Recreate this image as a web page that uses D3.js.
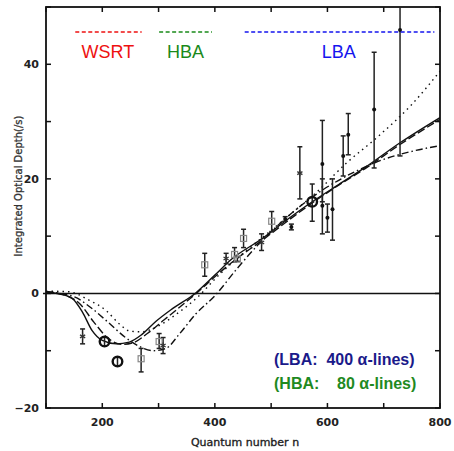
<!DOCTYPE html>
<html>
<head>
<script src="https://cdnjs.cloudflare.com/ajax/libs/d3/7.8.5/d3.min.js"></script>
<style>
  body { margin: 0; background: #fff; }
  text { white-space: pre; }
</style>
</head>
<body>
<svg id="chart"></svg>
<script>
// measured points: quantum number, optical depth, error range, marker
const pointN   = [165, 204, 227, 269, 301, 308, 382, 420, 435, 440, 451, 483, 501, 525, 536, 551, 573, 591, 591, 600, 609, 628, 637, 683, 729];
const pointTau = [-7.5, -8.4, -11.9, -11.4, -8.4, -9.1, 5.0, 6.1, 6.8, 6.0, 9.6, 8.9, 12.6, 13.0, 11.6, 21.0, 16.0, 22.6, 15.3, 13.2, 14.7, 24.0, 27.7, 32.1, 46.0];
const pointLo  = [-8.8, -9.2, -12.7, -13.7, -9.6, -10.5, 3.0, 5.2, 5.5, 5.6, 8.0, 7.5, 10.8, 12.6, 11.1, 16.5, 12.6, 16.0, 10.4, 10.7, 9.3, 20.5, 24.2, 21.9, 24.0];
const pointHi  = [-6.2, -7.6, -11.1, -9.6, -7.0, -7.7, 7.0, 7.0, 8.0, 6.4, 11.2, 10.4, 14.3, 13.4, 12.1, 25.6, 19.1, 30.2, 20.0, 15.6, 20.0, 27.5, 31.4, 42.1, 68.0];
const pointMk  = ["star", "circ", "circ", "sq", "sq", "star", "sq", "star", "sq", "sq", "sq", "star", "sq", "dot", "dot", "star", "circ", "dot", "dot", "dot", "dot", "dot", "dot", "dot", "dot"];

// model curves
const solidN   = [100, 124, 147, 165, 182, 200, 225, 248, 270, 295, 324, 365, 400, 430, 483, 530, 573, 620, 667, 729, 800];
const solidTau = [0.3, -0.1, -0.9, -3.3, -6.5, -8.2, -8.8, -8.5, -7.2, -4.9, -2.7, 0, 3.2, 6.0, 9.5, 13.0, 16.0, 19.0, 22.0, 26.3, 30.7];
const dashN    = [100, 130, 160, 185, 210, 235, 255, 280, 310, 340, 367, 400, 430, 483, 530, 573, 620, 667, 729, 800];
const dashTau  = [0.3, -0.2, -1.8, -5.0, -7.8, -8.9, -8.6, -7.0, -4.6, -2.2, 0, 2.9, 5.4, 9.2, 12.7, 15.8, 18.9, 21.8, 26.0, 30.4];
const dotN     = [100, 140, 177, 207, 230, 250, 270, 301, 336, 372, 400, 450, 500, 540, 580, 632, 690, 750, 800];
const dotTau   = [0.4, 0.3, -1.2, -3.0, -5.3, -6.6, -6.7, -5.6, -3.3, -0.4, 2.5, 7.0, 11.0, 14.3, 17.6, 22.6, 27.4, 33.0, 38.8];
const ddN      = [100, 150, 180, 210, 240, 265, 290, 313, 336, 366, 400, 440, 475, 520, 580, 650, 700, 750, 800];
const ddTau    = [0.3, -0.6, -2.5, -5.0, -7.6, -9.2, -10.0, -9.6, -7.2, -3.6, -0.4, 4.4, 8.3, 12.6, 17.3, 21.3, 23.4, 24.8, 25.8];

const xTicks = [200, 400, 600, 800];
const yTicks = [-20, 0, 20, 40];

// observing ranges shown at top
const bandNames  = ["WSRT", "HBA", "LBA"];
const bandStart  = [152, 301, 453];
const bandEnd    = [270, 395, 790];
const bandLabelN = [210, 348, 620];
const bandColors = ["#ee1111", "#1a8a1a", "#1515ee"];

const legendLines  = ["(LBA:  400 \u03b1-lines)", "(HBA:    80 \u03b1-lines)"];
const legendColors = ["#1a1a8a", "#1f8a1f"];

const W = 454, H = 451;
const svg = d3.select("#chart").attr("width", W).attr("height", H);
const x = d3.scaleLinear().domain([100, 800]).range([46, 440]);
const y = d3.scaleLinear().domain([-20, 50]).range([408, 7]);

svg.append("defs").append("clipPath").attr("id", "plot")
  .append("rect").attr("x", 46).attr("y", 7).attr("width", 394).attr("height", 401);

const tickFont = "'DejaVu Sans', sans-serif";

// frame ticks (inward) on all sides
const xMinor = d3.range(100, 801, 100);
const yMinor = d3.range(-20, 51, 10);
const ticks = svg.append("g").attr("stroke", "#111").attr("stroke-width", 1.5);
xMinor.forEach(v => {
  ticks.append("line").attr("x1", x(v)).attr("x2", x(v)).attr("y1", 408).attr("y2", 403);
  ticks.append("line").attr("x1", x(v)).attr("x2", x(v)).attr("y1", 7).attr("y2", 12);
});
yMinor.forEach(v => {
  ticks.append("line").attr("x1", 46).attr("x2", 51).attr("y1", y(v)).attr("y2", y(v));
  ticks.append("line").attr("x1", 440).attr("x2", 435).attr("y1", y(v)).attr("y2", y(v));
});

svg.append("rect").attr("x", 46).attr("y", 7).attr("width", 394).attr("height", 401)
  .attr("fill", "none").attr("stroke", "#111").attr("stroke-width", 1.8);

// zero line
svg.append("line").attr("x1", 43).attr("x2", 440).attr("y1", y(0)).attr("y2", y(0))
  .attr("stroke", "#111").attr("stroke-width", 1.5);

// tick labels
svg.append("g").selectAll("text").data(xTicks).join("text")
  .attr("x", d => x(d)).attr("y", 426).attr("text-anchor", "middle")
  .attr("font-family", tickFont).attr("font-size", 11).attr("font-weight", "bold").attr("fill", "#222")
  .text(d => d);
svg.append("g").selectAll("text").data(yTicks).join("text")
  .attr("x", 39).attr("y", d => y(d) + 4).attr("text-anchor", "end")
  .attr("font-family", tickFont).attr("font-size", 11).attr("font-weight", "bold").attr("fill", "#222")
  .text(d => d < 0 ? "\u2212" + Math.abs(d) : d);

// axis titles
svg.append("text").attr("x", 245).attr("y", 446).attr("text-anchor", "middle")
  .attr("font-family", tickFont).attr("font-size", 11).attr("fill", "#222")
  .attr("stroke", "#222").attr("stroke-width", 0.35)
  .text("Quantum number n");
svg.append("text").attr("transform", "translate(22,186) rotate(-90)").attr("text-anchor", "middle")
  .attr("font-family", tickFont).attr("font-size", 10).attr("fill", "#333")
  .attr("stroke", "#333").attr("stroke-width", 0.3)
  .text("Integrated Optical Depth(/s)");

// model curves
const plot = svg.append("g").attr("clip-path", "url(#plot)");
const line = d3.line().x(d => x(d[0])).y(d => y(d[1])).curve(d3.curveMonotoneX);
const curves = [
  [solidN, solidTau, null],
  [dashN, dashTau, "8,3"],
  [dotN, dotTau, "1.5,4"],
  [ddN, ddTau, "7,3,1.5,3"]
];
curves.forEach(([ns, ts, dash]) => {
  plot.append("path").datum(ns.map((v, i) => [v, ts[i]]))
    .attr("d", line).attr("fill", "none").attr("stroke", "#111").attr("stroke-width", 1.4)
    .attr("stroke-dasharray", dash);
});

// error bars and markers
const pts = pointN.map((v, i) => ({ n: v, t: pointTau[i], lo: pointLo[i], hi: pointHi[i], mk: pointMk[i] }));
const eb = plot.append("g").attr("stroke", "#222").attr("stroke-width", 1.5);
pts.forEach(p => {
  const px = x(p.n);
  eb.append("line").attr("x1", px).attr("x2", px).attr("y1", y(p.lo)).attr("y2", y(p.hi));
  [p.lo, p.hi].forEach(v => eb.append("line").attr("x1", px - 2.5).attr("x2", px + 2.5).attr("y1", y(v)).attr("y2", y(v)));
});
pts.forEach(p => {
  const px = x(p.n), py = y(p.t);
  if (p.mk === "sq") {
    plot.append("rect").attr("x", px - 3).attr("y", py - 3).attr("width", 6).attr("height", 6)
      .attr("fill", "none").attr("stroke", "#888").attr("stroke-width", 1.2);
  } else if (p.mk === "star") {
    const s = plot.append("g").attr("stroke", "#333").attr("stroke-width", 1.2);
    [0, 60, 120].forEach(a => {
      const r = a * Math.PI / 180;
      s.append("line").attr("x1", px - 3 * Math.sin(r)).attr("x2", px + 3 * Math.sin(r))
        .attr("y1", py - 3 * Math.cos(r)).attr("y2", py + 3 * Math.cos(r));
    });
  } else if (p.mk === "circ") {
    plot.append("circle").attr("cx", px).attr("cy", py).attr("r", 4.8)
      .attr("fill", "none").attr("stroke", "#111").attr("stroke-width", 2.4);
  } else {
    plot.append("circle").attr("cx", px).attr("cy", py).attr("r", 2).attr("fill", "#111");
  }
});

// band labels
bandNames.forEach((b, i) => {
  svg.append("line").attr("x1", x(bandStart[i])).attr("x2", x(bandEnd[i])).attr("y1", 32).attr("y2", 32)
    .attr("stroke", bandColors[i]).attr("stroke-width", 1.5).attr("stroke-dasharray", "4,2.5");
  svg.append("text").attr("x", x(bandLabelN[i])).attr("y", 58)
    .attr("text-anchor", "middle").attr("font-family", "'Liberation Sans', Arial, sans-serif")
    .attr("font-size", 18).attr("fill", bandColors[i]).text(b);
});

// legend
legendLines.forEach((t, i) => {
  svg.append("text").attr("x", 274).attr("y", 365 + i * 24)
    .attr("font-family", "'Liberation Sans', Arial, sans-serif").attr("font-weight", "bold")
    .attr("font-size", 16).attr("fill", legendColors[i]).text(t);
});
</script>
</body>
</html>
